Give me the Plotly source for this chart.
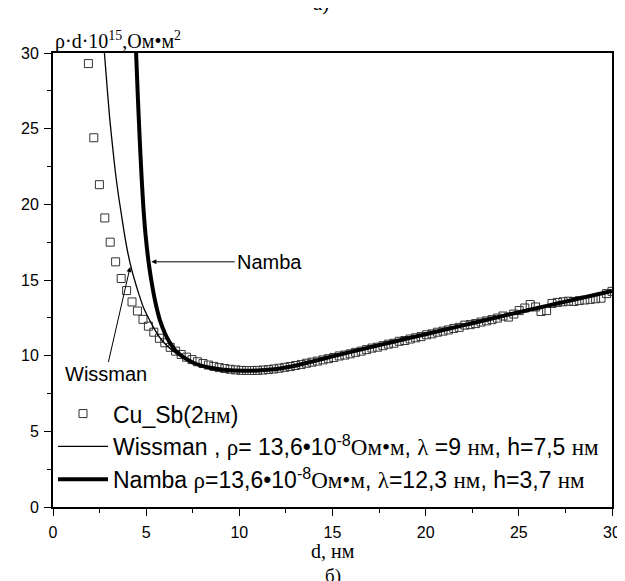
import plotly.graph_objects as go

# ---------------- data ----------------
d_exp = [1.90, 2.19, 2.49, 2.78, 3.07, 3.36, 3.66, 3.95, 4.24, 4.53, 4.83, 5.12, 5.41, 5.71,
         6.00, 6.29, 6.58, 6.88, 7.17, 7.46, 7.75, 8.05, 8.34, 8.63, 8.92, 9.22, 9.51, 9.80,
         10.10, 10.39, 10.68, 10.97, 11.27, 11.56, 11.85, 12.14, 12.44, 12.73, 13.02, 13.32,
         13.61, 13.90, 14.19, 14.49, 14.78, 15.07, 15.36, 15.66, 15.95, 16.24, 16.54, 16.83,
         17.12, 17.41, 17.71, 18.00, 18.29, 18.58, 18.88, 19.17, 19.46, 19.75, 20.05, 20.34,
         20.63, 20.93, 21.22, 21.51, 21.80, 22.10, 22.39, 22.68, 22.97, 23.27, 23.56, 23.85,
         24.15, 24.44, 24.73, 25.02, 25.32, 25.61, 25.90, 26.19, 26.49, 26.78, 27.07, 27.37,
         27.66, 27.95, 28.24, 28.54, 28.83, 29.12, 29.41, 29.71, 30.00]
rho_exp = [29.3, 24.4, 21.3, 19.1, 17.5, 16.2, 15.1, 14.3, 13.55, 12.95, 12.4, 11.95, 11.55, 11.15,
           10.85, 10.55, 10.3, 10.08, 9.9, 9.74, 9.6, 9.48, 9.38, 9.29, 9.21, 9.15, 9.1, 9.06,
           9.03, 9.02, 9.02, 9.03, 9.05, 9.08, 9.12, 9.17, 9.23, 9.28, 9.35, 9.42,
           9.5, 9.57, 9.64, 9.72, 9.8, 9.88, 9.98, 10.04, 10.12, 10.22, 10.3, 10.4,
           10.5, 10.56, 10.66, 10.76, 10.82, 10.95, 11.0, 11.1, 11.18, 11.26, 11.38, 11.44,
           11.55, 11.62, 11.7, 11.8, 11.87, 12.02, 12.05, 12.12, 12.22, 12.3, 12.38, 12.48,
           12.62, 12.55, 12.75, 12.98, 13.15, 13.38, 13.22, 12.92, 12.98, 13.45, 13.52, 13.56,
           13.6, 13.58, 13.64, 13.68, 13.72, 13.76, 13.8, 14.1, 14.25]

d_wis = [2.62, 2.76, 2.90, 3.05, 3.20, 3.35, 3.50, 3.65, 3.80, 4.00, 4.20, 4.40, 4.60, 4.85,
         5.10, 5.40, 5.70, 6.00, 6.40, 6.80, 7.20, 7.70, 8.20, 8.80, 9.50, 10.2, 11.0, 12.0,
         13.0, 14.0, 15.0, 16.0, 17.0, 18.0, 19.0, 20.0, 21.0, 22.0, 23.0, 24.0, 25.0, 26.0,
         27.0, 28.0, 29.0, 30.0]
rho_wis = [32.5, 30.0, 27.8, 25.6, 23.8, 22.1, 20.7, 19.5, 18.3, 16.9, 15.8, 14.9, 14.1, 13.2,
           12.55, 11.85, 11.25, 10.8, 10.35, 10.0, 9.72, 9.47, 9.3, 9.15, 9.05, 9.0, 9.02, 9.12,
           9.33, 9.64, 9.95, 10.25, 10.55, 10.84, 11.13, 11.42, 11.71, 12.0, 12.29, 12.58, 12.87, 13.15,
           13.43, 13.71, 13.99, 14.27]

d_nam = [4.38, 4.46, 4.55, 4.65, 4.75, 4.85, 4.95, 5.05, 5.15, 5.30, 5.50, 5.75, 6.00, 6.25,
         6.60, 7.00, 7.50, 8.00, 8.60, 9.30, 10.2, 11.0, 12.0, 13.0, 14.0, 15.0, 16.0, 17.0,
         18.0, 19.0, 20.0, 21.0, 22.0, 23.0, 24.0, 25.0, 26.0, 27.0, 28.0, 29.0, 30.0]
rho_nam = [32.5, 30.0, 27.2, 24.4, 21.9, 19.8, 18.2, 17.0, 16.0, 14.8, 13.5, 12.3, 11.5, 10.9,
           10.3, 9.9, 9.55, 9.33, 9.17, 9.06, 9.0, 9.02, 9.12, 9.33, 9.64, 9.95, 10.25, 10.55,
           10.84, 11.13, 11.42, 11.71, 12.0, 12.29, 12.58, 12.87, 13.15, 13.43, 13.71, 13.99, 14.27]

x_ticks = [0, 5, 10, 15, 20, 25, 30]
y_ticks = [0, 5, 10, 15, 20, 25, 30]

SERIF = "Liberation Serif"
SANS = "Liberation Sans"


def rus(t):
    return f'<span style="font-family:{SERIF}">{t}</span>'


name_exp = f"Cu_Sb(2{rus('нм')})"
name_wis = (f"Wissman , {rus('ρ')}= 13,6•10<sup>-8</sup>{rus('Ом•м')}, {rus('λ')} =9 {rus('нм')}, "
            f"h=7,5 {rus('нм')}")
name_nam = (f"Namba {rus('ρ')}=13,6•10<sup>-8</sup>{rus('Ом•м')}, {rus('λ')}=12,3 {rus('нм')}, "
            f"h=3,7 {rus('нм')}")

fig = go.Figure()
fig.add_trace(go.Scatter(x=d_exp, y=rho_exp, mode="markers", name=name_exp,
                         marker=dict(symbol="square-open", size=8, color="#333333",
                                     line=dict(width=1, color="#333333"))))
fig.add_trace(go.Scatter(x=d_wis, y=rho_wis, mode="lines", name=name_wis,
                         line=dict(color="black", width=1.3, shape="spline", smoothing=0.6)))
fig.add_trace(go.Scatter(x=d_nam, y=rho_nam, mode="lines", name=name_nam,
                         line=dict(color="black", width=4, shape="spline", smoothing=0.6)))

axis_common = dict(showgrid=False, zeroline=False, showline=True, linecolor="black", linewidth=1.8,
                   mirror=True, ticks="outside", ticklen=7, tickwidth=1.3, tickcolor="black",
                   tickfont=dict(family=SANS, size=16, color="black"),
                   minor=dict(dtick=2.5, ticks="outside", ticklen=4, tickwidth=1.3, tickcolor="black"))

fig.update_xaxes(range=[0, 30], tickvals=x_ticks, ticklabelstandoff=3, **axis_common)
fig.update_yaxes(range=[0, 30], tickvals=y_ticks, ticklabelstandoff=2, **axis_common)

annotations = [
    dict(x=5.28, y=16.2, ax=9.75, ay=16.2, xref="x", yref="y", axref="x", ayref="y",
         text="Namba", xanchor="left", showarrow=True, arrowhead=2, arrowsize=1, arrowwidth=1,
         arrowcolor="black", font=dict(family=SANS, size=20, color="black")),
    dict(x=4.14, y=15.86, ax=2.82, ay=8.76, xref="x", yref="y", axref="x", ayref="y",
         text="Wissman", xanchor="center", yanchor="middle", showarrow=True, arrowhead=2,
         arrowsize=1, arrowwidth=1, arrowcolor="black",
         font=dict(family=SANS, size=20, color="black")),
    dict(x=0, y=1, xref="paper", yref="paper", xanchor="left", yanchor="bottom", showarrow=False,
         text=f"ρ·d·10<sup>15</sup>,{rus('Ом•м')}<sup>2</sup>", yshift=-2,
         font=dict(family=SERIF, size=20, color="black")),
    dict(x=0.48, y=1, xref="paper", yref="paper", xanchor="center", yanchor="bottom",
         showarrow=False, text="а)", yshift=36, font=dict(family=SERIF, size=21, color="black")),
    dict(x=0.5, y=0, xref="paper", yref="paper", xanchor="center", yanchor="top",
         showarrow=False, text="d, нм", yshift=-32, height=22, borderpad=0,
         font=dict(family=SERIF, size=20, color="black")),
    dict(x=0.5, y=0, xref="paper", yref="paper", xanchor="center", yanchor="top",
         showarrow=False, text="б)", yshift=-57, height=21, borderpad=0,
         font=dict(family=SERIF, size=19, color="black")),
]

fig.update_layout(
    width=625, height=581,
    margin=dict(l=45, r=12, t=45, b=82),
    paper_bgcolor="white", plot_bgcolor="white",
    showlegend=True,
    legend=dict(x=0.0, y=0.013, xanchor="left", yanchor="bottom", bgcolor="rgba(0,0,0,0)",
                font=dict(family=SANS, size=23, color="black"), itemwidth=50,
                tracegroupgap=0),
    annotations=annotations,
)

fig.write_html("out.html")
